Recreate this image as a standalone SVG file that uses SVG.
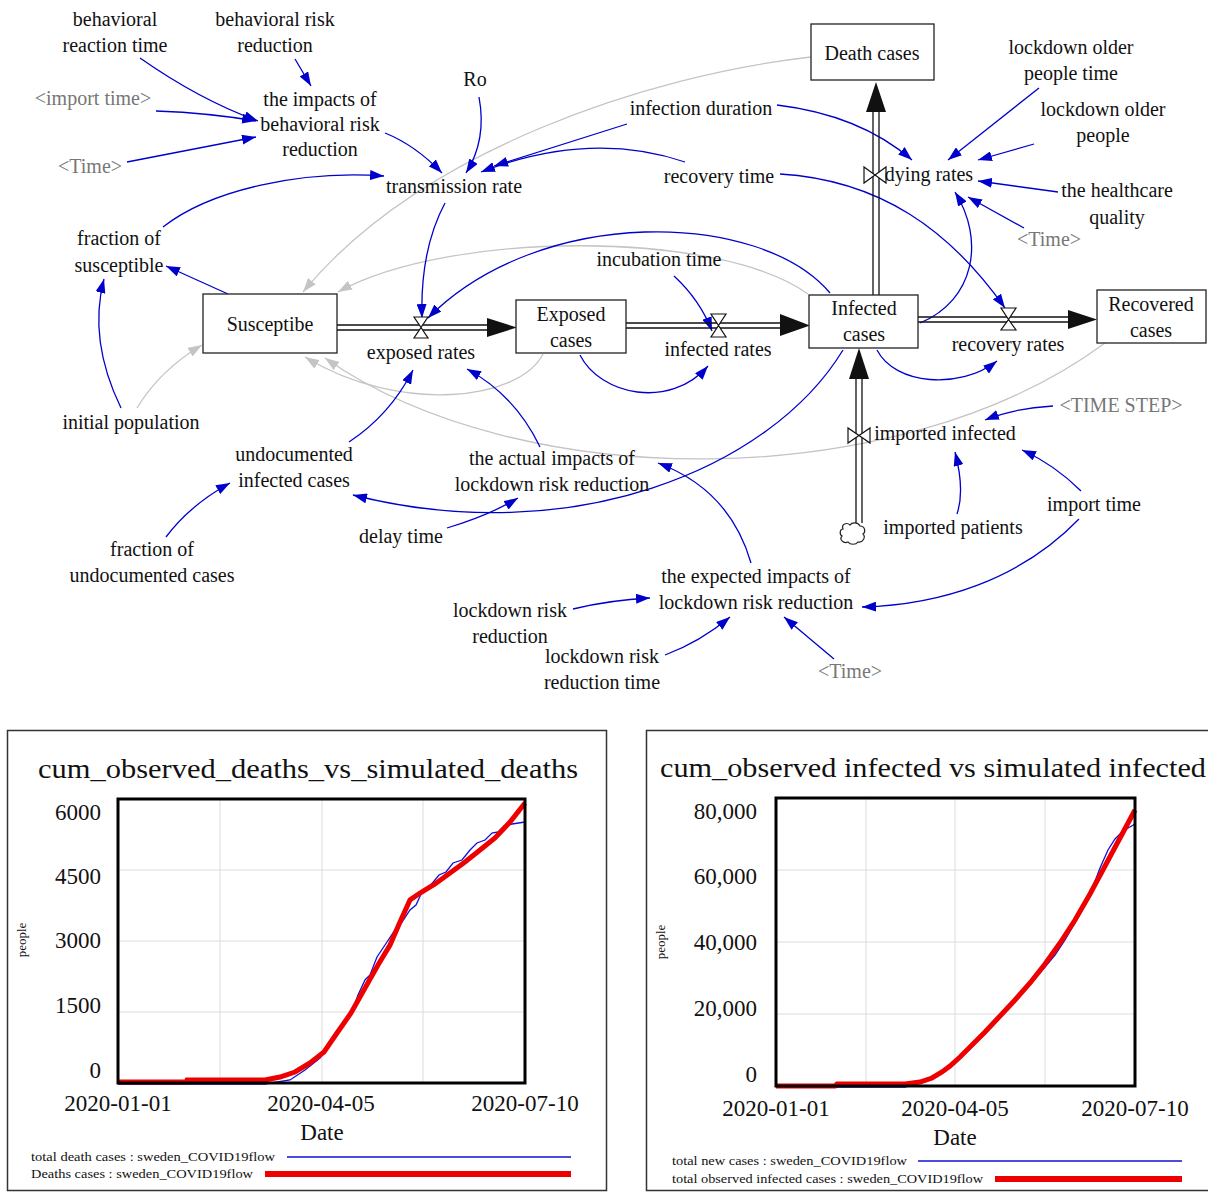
<svg xmlns="http://www.w3.org/2000/svg" width="1208" height="1193" viewBox="0 0 1208 1193">
<style>
.t{font-family:"Liberation Serif","Times New Roman",serif;font-size:20px;fill:#111;text-anchor:middle}
.g{fill:#777}
.box{fill:#fff;stroke:#222;stroke-width:1.3}
.lk{fill:none;stroke:#0000cc;stroke-width:1.3;marker-end:url(#ab)}
.gl{fill:none;stroke:#c4c4c4;stroke-width:1.3;marker-end:url(#ag)}
.pipe{fill:none;stroke:#111;stroke-width:1.3}
.valve{fill:#fff;stroke:#111;stroke-width:1.2}
.ct{font-family:"Liberation Serif","Times New Roman",serif;fill:#111}
.grid{stroke:#dcdcdc;stroke-width:1}
</style>
<defs>
<marker id="ab" viewBox="0 0 14 10" refX="14" refY="5" markerWidth="14" markerHeight="10" markerUnits="userSpaceOnUse" orient="auto"><path d="M0,0L14,5L0,10z" fill="#0000cc"/></marker>
<marker id="ag" viewBox="0 0 14 10" refX="14" refY="5" markerWidth="14" markerHeight="10" markerUnits="userSpaceOnUse" orient="auto"><path d="M0,0L14,5L0,10z" fill="#c4c4c4"/></marker>
</defs>
<rect width="1208" height="1193" fill="#fff"/>

<g id="connectors">
<!-- gray links -->
<path class="gl" d="M811,57 C650,75 420,150 303,292"/>
<path class="gl" d="M808,294 C720,230 450,230 338,292"/>
<path class="gl" d="M543,354 C520,400 400,415 305,357"/>
<path class="gl" d="M1105,343 C900,495 520,495 325,358"/>
<path class="gl" d="M137,408 Q160,370 202,345"/>
<!-- blue links -->
<path class="lk" d="M140,58 Q200,100 258,121"/>
<path class="lk" d="M295,59 L311,86"/>
<path class="lk" d="M156,111 Q210,113 256,121"/>
<path class="lk" d="M127,162 L256,137"/>
<path class="lk" d="M385,133 Q415,145 442,173"/>
<path class="lk" d="M479,97 Q487,140 466,173"/>
<path class="lk" d="M627,124 L494,166"/>
<path class="lk" d="M685,162 Q590,130 481,172"/>
<path class="lk" d="M163,227 C210,190 300,170 384,176"/>
<path class="lk" d="M228,294 L166,266"/>
<path class="lk" d="M121,408 Q88,340 104,279"/>
<path class="lk" d="M445,203 Q420,250 422,318"/>
<path class="lk" d="M830,293 C760,210 540,205 428,318"/>
<path class="lk" d="M777,105 Q860,115 912,160"/>
<path class="lk" d="M780,174 C880,180 950,230 1005,308"/>
<path class="lk" d="M1039,88 L948,160"/>
<path class="lk" d="M1034,144 L978,160"/>
<path class="lk" d="M1058,192 L978,181"/>
<path class="lk" d="M1024,228 L968,197"/>
<path class="lk" d="M920,323 C975,300 985,240 955,192"/>
<path class="lk" d="M674,276 Q700,300 712,331"/>
<path class="lk" d="M580,355 C600,395 670,410 708,366"/>
<path class="lk" d="M877,350 C895,385 960,390 997,361"/>
<path class="lk" d="M349,442 Q390,415 413,370"/>
<path class="lk" d="M540,447 Q515,395 467,369"/>
<path class="lk" d="M447,528 Q490,515 518,498"/>
<path class="lk" d="M843,350 C770,470 570,550 353,495"/>
<path class="lk" d="M751,563 Q730,490 658,463"/>
<path class="lk" d="M166,537 Q190,505 230,483"/>
<path class="lk" d="M573,609 Q610,600 650,598"/>
<path class="lk" d="M665,655 Q700,642 730,617"/>
<path class="lk" d="M834,659 L784,617"/>
<path class="lk" d="M1079,519 C1020,580 940,605 862,607"/>
<path class="lk" d="M1081,491 Q1055,465 1022,450"/>
<path class="lk" d="M957,514 Q965,490 955,452"/>
<path class="lk" d="M1053,406 Q1015,408 985,420"/>
<!-- flows -->
<path class="pipe" d="M337,325 H490 M337,330 H490"/>
<polygon points="487,318 517,327.5 487,337" fill="#111"/>
<path class="pipe" d="M626,323 H782 M626,328 H782"/>
<polygon points="780,314 810,325.5 780,336" fill="#111"/>
<path class="pipe" d="M918,317 H1070 M918,322 H1070"/>
<polygon points="1068,310 1097,319.5 1068,329" fill="#111"/>
<path class="pipe" d="M873,295 V110 M879,295 V110"/>
<polygon points="866,112 876,82 886,112" fill="#111"/>
<path class="pipe" d="M856,523 V376 M862,523 V376"/>
<polygon points="849,379 859,348 869,379" fill="#111"/>
<polygon class="valve" points="414,317 428,317 421,327.5 428,338 414,338 421,327.5"/>
<polygon class="valve" points="711,314 726,314 718.5,325.5 726,337 711,337 718.5,325.5"/>
<polygon class="valve" points="1001,308 1016,308 1008.5,319.5 1016,330 1001,330 1008.5,319.5"/>
<polygon class="valve" points="864,167 864,183 875,175 886,183 886,167 875,175"/>
<polygon class="valve" points="848,428 848,443 859,435.5 870,443 870,428 859,435.5"/>
<path d="M843,529 c-2,-5 4,-7 7,-4 c2,-3 8,-3 10,1 c5,0 6,6 3,8 c3,3 0,9 -5,8 c-2,3 -8,3 -10,0 c-5,2 -9,-3 -6,-6 c-3,-2 -2,-7 1,-7z" fill="#fff" stroke="#222" stroke-width="1.2"/>
</g>

<g id="behavioral_reaction_time"><text class="t" x="115" y="26">behavioral</text><text class="t" x="115" y="52">reaction time</text></g>
<g id="behavioral_risk_reduction"><text class="t" x="275" y="26">behavioral risk</text><text class="t" x="275" y="52">reduction</text></g>
<g id="import_time_shadow"><text class="t g" x="93" y="105">&lt;import time&gt;</text></g>
<g id="time_shadow1"><text class="t g" x="90" y="173">&lt;Time&gt;</text></g>
<g id="impacts_behavioral"><text class="t" x="320" y="106">the impacts of</text><text class="t" x="320" y="131">behavioral risk</text><text class="t" x="320" y="156">reduction</text></g>
<g id="ro"><text class="t" x="475" y="86">Ro</text></g>
<g id="transmission_rate"><text class="t" x="454" y="193">transmission rate</text></g>
<g id="infection_duration"><text class="t" x="701" y="115">infection duration</text></g>
<g id="recovery_time"><text class="t" x="719" y="183">recovery time</text></g>
<g id="death_cases"><rect class="box" x="811" y="24" width="123" height="56"/><text class="t" x="872" y="60">Death cases</text></g>
<g id="lockdown_older_people_time"><text class="t" x="1071" y="54">lockdown older</text><text class="t" x="1071" y="80">people time</text></g>
<g id="lockdown_older_people"><text class="t" x="1103" y="116">lockdown older</text><text class="t" x="1103" y="142">people</text></g>
<g id="dying_rates"><text class="t" x="929" y="181">dying rates</text></g>
<g id="healthcare_quality"><text class="t" x="1117" y="197">the healthcare</text><text class="t" x="1117" y="224">quality</text></g>
<g id="time_shadow2"><text class="t g" x="1049" y="246">&lt;Time&gt;</text></g>
<g id="fraction_susceptible"><text class="t" x="119" y="245">fraction of</text><text class="t" x="119" y="272">susceptible</text></g>
<g id="susceptibe"><rect class="box" x="203" y="294" width="134" height="59"/><text class="t" x="270" y="331">Susceptibe</text></g>
<g id="exposed_rates"><text class="t" x="421" y="359">exposed rates</text></g>
<g id="exposed_cases"><rect class="box" x="516" y="300" width="110" height="53"/><text class="t" x="571" y="321">Exposed</text><text class="t" x="571" y="347">cases</text></g>
<g id="incubation_time"><text class="t" x="659" y="266">incubation time</text></g>
<g id="infected_rates"><text class="t" x="718" y="356">infected rates</text></g>
<g id="infected_cases"><rect class="box" x="809" y="295" width="109" height="53"/><text class="t" x="864" y="315">Infected</text><text class="t" x="864" y="341">cases</text></g>
<g id="recovery_rates"><text class="t" x="1008" y="351">recovery rates</text></g>
<g id="recovered_cases"><rect class="box" x="1097" y="290" width="109" height="53"/><text class="t" x="1151" y="311">Recovered</text><text class="t" x="1151" y="337">cases</text></g>
<g id="initial_population"><text class="t" x="131" y="429">initial population</text></g>
<g id="undocumented_infected"><text class="t" x="294" y="461">undocumented</text><text class="t" x="294" y="487">infected cases</text></g>
<g id="actual_impacts"><text class="t" x="552" y="465">the actual impacts of</text><text class="t" x="552" y="491">lockdown risk reduction</text></g>
<g id="imported_infected"><text class="t" x="945" y="440">imported infected</text></g>
<g id="time_step_shadow"><text class="t g" x="1121" y="412">&lt;TIME STEP&gt;</text></g>
<g id="import_time"><text class="t" x="1094" y="511">import time</text></g>
<g id="imported_patients"><text class="t" x="953" y="534">imported patients</text></g>
<g id="delay_time"><text class="t" x="401" y="543">delay time</text></g>
<g id="fraction_undocumented"><text class="t" x="152" y="556">fraction of</text><text class="t" x="152" y="582">undocumented cases</text></g>
<g id="expected_impacts"><text class="t" x="756" y="583">the expected impacts of</text><text class="t" x="756" y="609">lockdown risk reduction</text></g>
<g id="lockdown_risk_reduction"><text class="t" x="510" y="617">lockdown risk</text><text class="t" x="510" y="643">reduction</text></g>
<g id="lockdown_risk_reduction_time"><text class="t" x="602" y="663">lockdown risk</text><text class="t" x="602" y="689">reduction time</text></g>
<g id="time_shadow3"><text class="t g" x="850" y="678">&lt;Time&gt;</text></g>

<g id="chart_deaths">
<rect x="7.5" y="730.5" width="599" height="460" fill="#fff" stroke="#333" stroke-width="1.5"/>
<text class="ct" x="308" y="778" font-size="28" text-anchor="middle" textLength="540" lengthAdjust="spacingAndGlyphs">cum_observed_deaths_vs_simulated_deaths</text>
<path class="grid" d="M220,799V1083M322,799V1083M423,799V1083M118,870H525M118,941H525M118,1012H525"/>
<polyline fill="none" stroke="#1010d0" stroke-width="1.3" points="118,1084 265,1084 290,1080 305,1070 320,1058 335,1038 345,1020 352,1012 358,995 365,980 370,975 377,957 385,945 395,930 402,922 410,910 416,905 422,892 430,886 439,875 446,872 453,863 462,860 470,850 477,843 485,840 492,833 498,832 504,826 512,824 525,822"/>
<polyline fill="none" stroke="#ee0000" stroke-width="5" points="118,1082 186,1082 187,1080 265,1080 280,1077 295,1072 310,1063 324,1052 337,1033 351,1013 365,988 378,965 390,945 400,922 410,900 420,893 435,884 450,873 465,862 480,850 495,838 510,822 525,803"/>
<rect x="118" y="799" width="407" height="284" fill="none" stroke="#000" stroke-width="3"/>
<g class="ct" font-size="23" text-anchor="end"><text x="101" y="820">6000</text><text x="101" y="884">4500</text><text x="101" y="948">3000</text><text x="101" y="1013">1500</text><text x="101" y="1078">0</text></g>
<g class="ct" font-size="23" text-anchor="middle"><text x="118" y="1111">2020-01-01</text><text x="321" y="1111">2020-04-05</text><text x="525" y="1111">2020-07-10</text><text x="322" y="1140">Date</text></g>
<text class="ct" font-size="13" text-anchor="middle" transform="translate(26,940) rotate(-90)">people</text>
<text class="ct" font-size="13" x="31" y="1161" textLength="244" lengthAdjust="spacingAndGlyphs">total death cases : sweden_COVID19flow</text>
<line x1="287" y1="1157" x2="571" y2="1157" stroke="#1010d0" stroke-width="1.3"/>
<text class="ct" font-size="13" x="31" y="1178" textLength="222" lengthAdjust="spacingAndGlyphs">Deaths cases : sweden_COVID19flow</text>
<line x1="265" y1="1174" x2="571" y2="1174" stroke="#ee0000" stroke-width="6"/>
</g>

<g id="chart_infected">
<path d="M1208,730.5H646.5V1190.5H1208" fill="#fff" stroke="#333" stroke-width="1.5"/>
<text class="ct" x="933" y="777" font-size="28" text-anchor="middle" textLength="546" lengthAdjust="spacingAndGlyphs">cum_observed infected vs simulated infected</text>
<path class="grid" d="M866,798V1086M955,798V1086M1045,798V1086M776,870H1135M776,942H1135M776,1014H1135"/>
<polyline fill="none" stroke="#1010d0" stroke-width="1.3" points="776,1087 905,1087 920,1083 932,1079 942,1073 950,1067 960,1058 970,1048 985,1033 1000,1017 1015,1001 1030,985 1045,967 1055,955 1065,940 1075,923 1085,905 1094,884 1100,868 1108,850 1115,839 1123,831 1135,824"/>
<polyline fill="none" stroke="#ee0000" stroke-width="5" points="776,1086 835,1086 837,1084 905,1084 920,1082 932,1078 942,1072 950,1066 960,1057 970,1047 985,1032 1000,1016 1015,1000 1030,983 1045,964 1060,943 1075,920 1090,894 1105,866 1120,838 1135,810"/>
<rect x="776" y="798" width="359" height="288" fill="none" stroke="#000" stroke-width="3"/>
<g class="ct" font-size="23" text-anchor="end"><text x="757" y="819">80,000</text><text x="757" y="884">60,000</text><text x="757" y="950">40,000</text><text x="757" y="1016">20,000</text><text x="757" y="1082">0</text></g>
<g class="ct" font-size="23" text-anchor="middle"><text x="776" y="1116">2020-01-01</text><text x="955" y="1116">2020-04-05</text><text x="1135" y="1116">2020-07-10</text><text x="955" y="1145">Date</text></g>
<text class="ct" font-size="13" text-anchor="middle" transform="translate(665,942) rotate(-90)">people</text>
<text class="ct" font-size="13" x="672" y="1165" textLength="235" lengthAdjust="spacingAndGlyphs">total new cases : sweden_COVID19flow</text>
<line x1="918" y1="1161" x2="1182" y2="1161" stroke="#1010d0" stroke-width="1.3"/>
<text class="ct" font-size="13" x="672" y="1183" textLength="311" lengthAdjust="spacingAndGlyphs">total observed infected cases : sweden_COVID19flow</text>
<line x1="995" y1="1179" x2="1182" y2="1179" stroke="#ee0000" stroke-width="6"/>
</g>
</svg>
